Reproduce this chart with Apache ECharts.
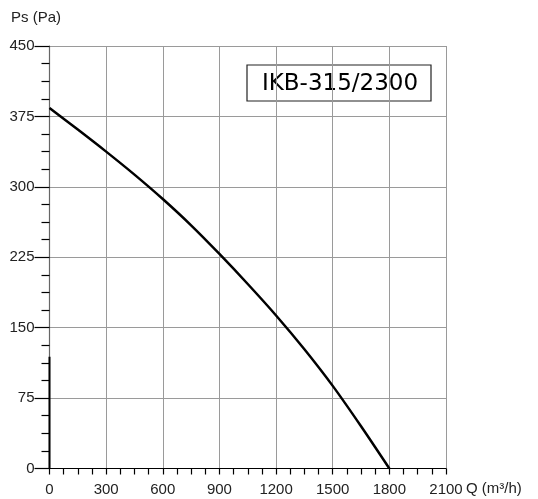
<!DOCTYPE html>
<html>
<head>
<meta charset="utf-8">
<script src="https://cdn.jsdelivr.net/npm/echarts@6/dist/echarts.min.js"></script>
<style>html,body{margin:0;padding:0;background:#fff;}#c{width:538px;height:499px;}</style>
</head>
<body>
<div id="c"></div>
<script>
var flowQ = [0, 150, 300, 450, 600, 750, 900, 1050, 1200, 1350, 1500, 1650, 1800];
var pressurePs = [384, 361, 337.5, 313, 287, 259, 228.5, 196.5, 163, 127, 88, 45, 0];
var xTicks = [0, 300, 600, 900, 1200, 1500, 1800, 2100];
var yTicks = [0, 75, 150, 225, 300, 375, 450];
var modelName = 'IKB-315/2300';

var chart = echarts.init(document.getElementById('c'), null, {renderer: 'canvas'});
var curve = flowQ.map(function (q, i) { return [q, pressurePs[i]]; });
var lbl = {fontFamily: 'Liberation Sans', fontSize: 15, color: '#222'};
chart.setOption({
  animation: false,
  grid: {left: 49.5, right: 92, top: 46, bottom: 30.5, show: false},
  xAxis: {
    type: 'value', min: xTicks[0], max: xTicks[xTicks.length - 1], interval: 300,
    axisLine: {show: true, lineStyle: {color: '#000', width: 1.2}},
    axisTick: {show: true, inside: false, length: 6, lineStyle: {color: '#000', width: 1.2}},
    minorTick: {show: true, splitNumber: 4, length: 6, lineStyle: {color: '#000', width: 1.2}},
    axisLabel: Object.assign({margin: 14, formatter: function (v) { return String(v); }}, lbl),
    splitLine: {show: true, lineStyle: {color: '#9a9a9a', width: 1}}
  },
  yAxis: {
    type: 'value', min: yTicks[0], max: yTicks[yTicks.length - 1], interval: 75,
    axisLine: {show: true, lineStyle: {color: '#666', width: 1.2}},
    axisTick: {show: true, inside: false, length: 15, lineStyle: {color: '#000', width: 1.2}},
    minorTick: {show: true, splitNumber: 4, length: 8, lineStyle: {color: '#000', width: 1.2}},
    axisLabel: Object.assign({margin: 15, formatter: function (v) { return String(v); }}, lbl),
    splitLine: {show: true, lineStyle: {color: '#9a9a9a', width: 1}}
  },
  series: [
    {
      type: 'line', data: [[0, 0], [0, 119]], symbol: 'none', silent: true,
      lineStyle: {color: '#000', width: 2}
    },
    {
      type: 'line', data: curve, smooth: 0.3, symbol: 'none',
      lineStyle: {color: '#000', width: 2.5}
    }
  ],
  graphic: [
    {type: 'text', left: 11, top: 10, style: {text: 'Ps (Pa)', fontFamily: 'Liberation Sans', fontSize: 15, fill: '#222'}},
    {type: 'text', left: 466, top: 481, style: {text: 'Q (m³/h)', fontFamily: 'Liberation Sans', fontSize: 15, fill: '#222'}},
    {type: 'rect', shape: {x: 247, y: 65, width: 184, height: 36}, style: {fill: '#fff', stroke: '#222', lineWidth: 1.2}},
    {type: 'text', x: 340, y: 84, style: {text: modelName, fontFamily: 'DejaVu Sans', fontSize: 23, fill: '#000', textAlign: 'center', textVerticalAlign: 'middle'}}
  ]
});
</script>
</body>
</html>
